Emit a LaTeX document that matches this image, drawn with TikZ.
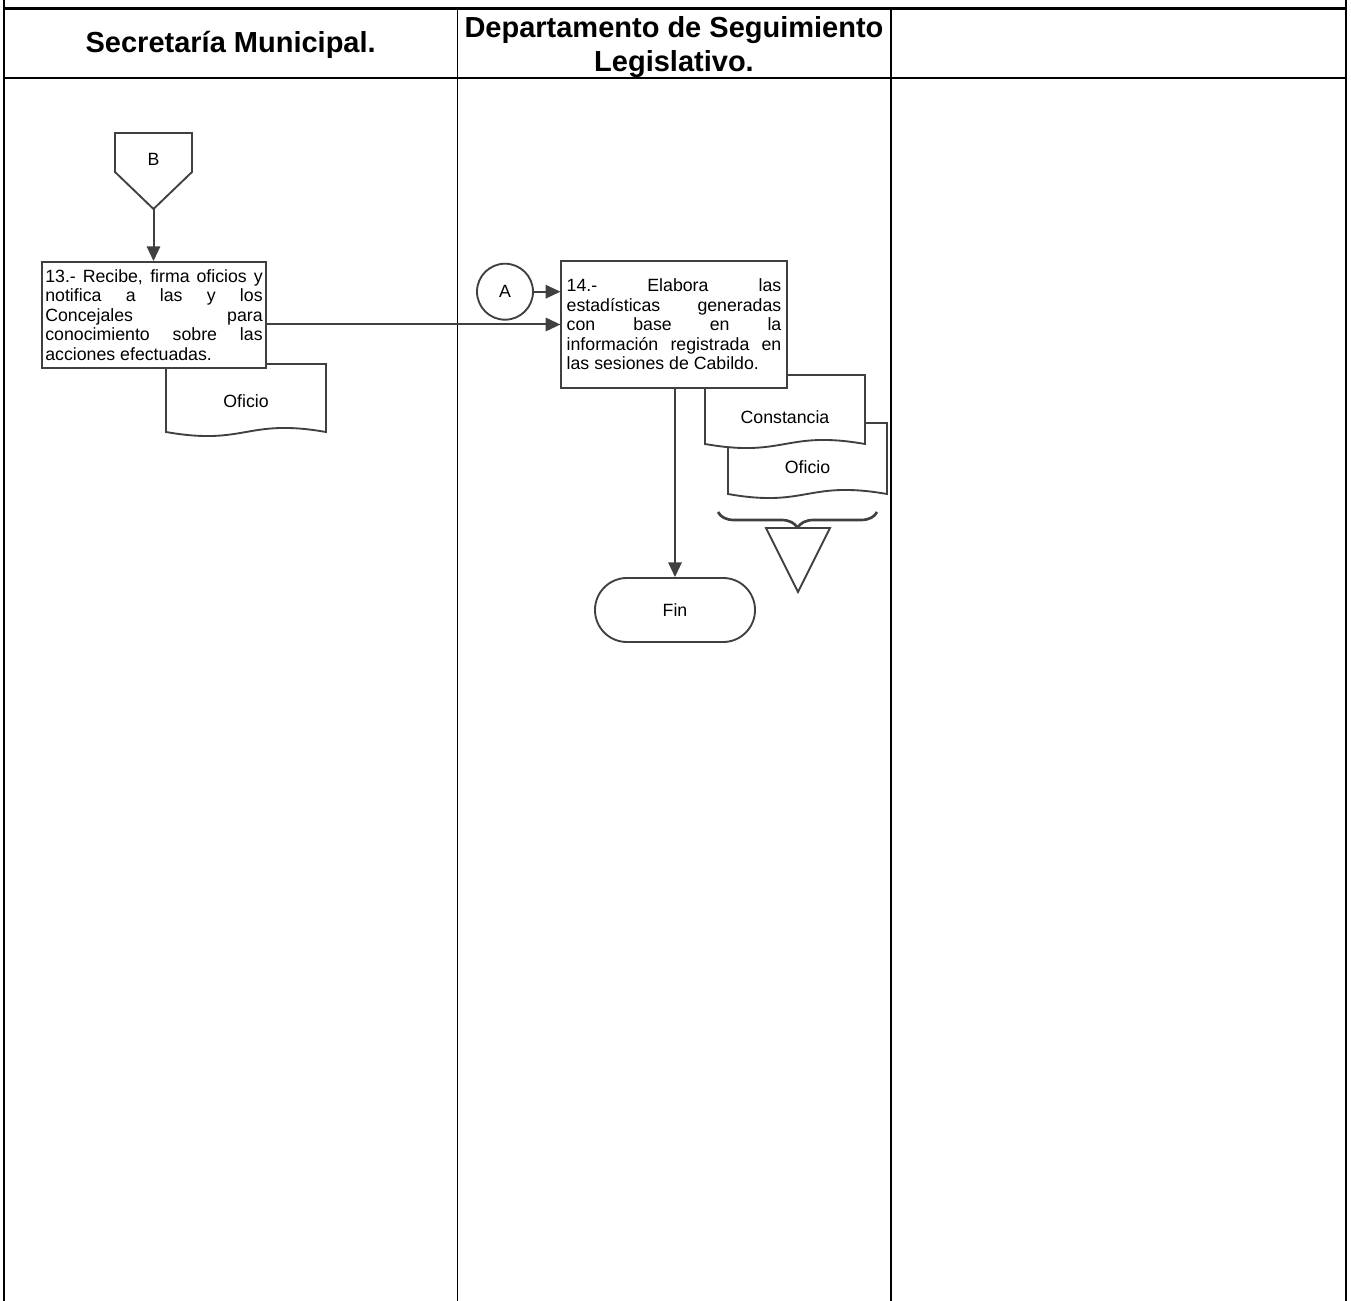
\documentclass[tikz,border=0pt]{standalone}
\usepackage{fontspec}
\setmainfont{Liberation Sans}
\usetikzlibrary{arrows.meta,decorations.pathreplacing}

\definecolor{linegray}{HTML}{404040}

\begin{document}
\begin{tikzpicture}[x=0.75pt,y=-0.75pt,
  tbl/.style={black, line width=1.8pt},
  lane/.style={black, line width=1.2pt},
  head/.style={font=\fontsize{21.75}{25.5}\selectfont\bfseries, align=center},
  txt/.style={font=\fontsize{13.3}{14.6}\selectfont},
  shp/.style={draw=linegray, line width=1.4pt, fill=white},
  proc/.style={shp, txt, rectangle, align=justify, inner ysep=2pt,
    execute at begin node={\tolerance=10000\hbadness=10000\relax}},
  flow/.style={draw=linegray, line width=1.5pt, -{Triangle[length=11pt,width=10pt]}}]
\useasboundingbox (0,0) rectangle (1351,1301);

% tabla
\draw[tbl] (4,0) -- (4,1301);
\draw[tbl] (1346,0) -- (1346,1301);
\draw[tbl] (4,8.5) -- (1346,8.5);
\draw[tbl] (4,78) -- (1346,78);
\draw[lane] (457.5,8.5) -- (457.5,1301);
\draw[lane] (891,8.5) -- (891,1301);
\node[head, anchor=base] (hSec) at (230.7,53) {Secretaría Municipal.};
\node[head] (hDep) at (674,47) {Departamento de Seguimiento\\Legislativo.};

% Secretaria Municipal
\filldraw[shp] (115,133) -- (192,133) -- (192,172) -- (153.5,209) -- (115,172) -- cycle;
\node[txt] (lblB) at (153.5,159) {B};
\coordinate (offB) at (153.5,209);
\filldraw[shp] (166,364) -- (326,364) -- (326,432) .. controls (246,418) and (246,446) .. (166,432) -- cycle;
\node[txt] (docOfiA) at (246,401) {Oficio};
\node[proc, text width=163pt, inner xsep=2.5pt, minimum height=79.5pt] (box13) at (154,315)
  {13.- Recibe, firma oficios y\linebreak notifica a las y los\linebreak Concejales para\linebreak conocimiento sobre las\linebreak acciones efectuadas.};
\draw[flow] (offB) -- (offB |- box13.north);

% Departamento de Seguimiento Legislativo
\filldraw[shp] (728,423) -- (887,423) -- (887,494) .. controls (807,480) and (807,508) .. (728,494) -- cycle;
\node[txt] (docOfiB) at (807.5,467) {Oficio};
\filldraw[shp] (705,375) -- (865,375) -- (865,444) .. controls (785,430) and (785,458) .. (705,444) -- cycle;
\node[txt] (docCons) at (785,417) {Constancia};
\node[proc, text width=161pt, inner xsep=4pt, minimum height=95pt] (box14) at (674,324.5)
  {14.- Elabora las\linebreak estadísticas generadas\linebreak con base en la\linebreak información registrada en\linebreak las sesiones de Cabildo.};
\node[shp, txt, circle, minimum size=42pt, inner sep=0pt] (conA) at (505,291.7) {A};
\node[shp, txt, rectangle, rounded corners=23.9pt, minimum width=120pt, minimum height=48pt] (fin) at (675,610) {Fin};
\draw[linegray, line width=2pt, decorate, decoration={brace, mirror, amplitude=12pt}] (718,512) -- (877,512);
\filldraw[shp] (766,528) -- (830,528) -- (798,592) -- cycle;

\draw[flow] (box13.east |- box14.west) -- (box14.west);
\draw[flow] (conA) -- (conA -| box14.west);
\draw[flow] (fin.north |- box14.south) -- (fin.north);
\end{tikzpicture}
\end{document}
